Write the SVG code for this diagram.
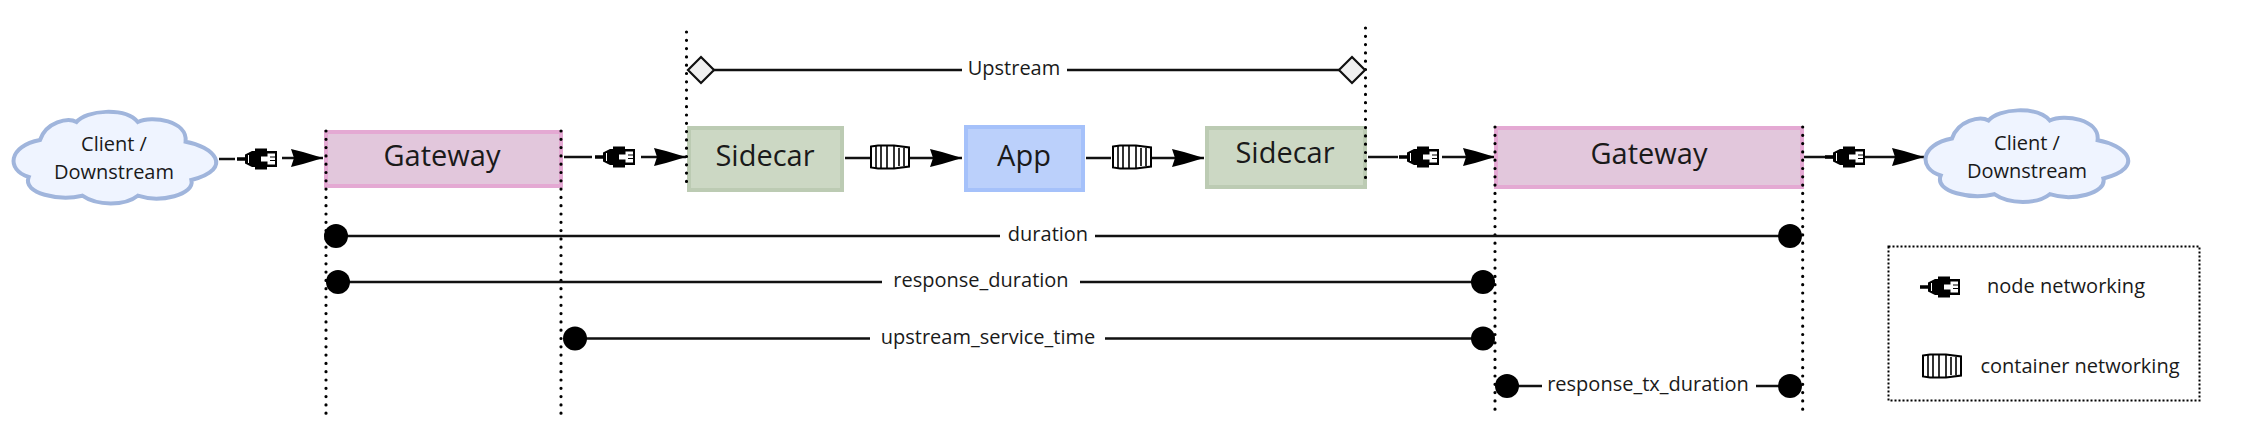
<svg xmlns="http://www.w3.org/2000/svg" width="2251" height="444" viewBox="0 0 2251 444">
<style>
text{font-family:"Open Sans","Noto Sans",sans-serif;fill:#1a1a1a;text-anchor:middle;dominant-baseline:central}
.big{font-size:29px}
.lbl{font-size:20px}
.box{stroke-width:4}
.gw{fill:#e2c7dc;stroke:#e4a9d3}
.sc{fill:#ccd8c4;stroke:#bccbb3}
.app{fill:#bbd0fb;stroke:#a5c1fa}
.cloud{fill:#eff4ff;stroke:#a0b5dc;stroke-width:4}
.dot{fill:none;stroke:#000;stroke-width:3.2;stroke-linecap:round;stroke-dasharray:0 8.3}
.ln{fill:none;stroke:#111;stroke-width:2.5}
.arr{marker-end:url(#head)}
.end{fill:#000}
.dia{fill:#f0f0f0;stroke:#111;stroke-width:2.2}
</style>
<defs>
<marker id="head" markerUnits="userSpaceOnUse" markerWidth="33" markerHeight="20" refX="32" refY="10" orient="auto" viewBox="0 0 33 20"><path d="M0,1 L12,4 L32,10 L12,16 L0,19 L3,10 Z" fill="#000"/></marker>
<path id="cloudshape" d="M40,140 C46,122 68,117 76.500,122 C86,110 125,107 137.800,122 C152,115 188,121 185.600,141.700 C212,146 236,168 191.400,180 C195,195 160,203 137.800,195.700 C125,206 97,206 82.300,195.700 C60,201 22,194 28.700,177 C6,170 8,146 40,140 Z"/>
<g id="plug">
<path d="M0,-1.800H8V1.800H0Z M8,-4.500L15,-8H18V8H15L8,4.500Z" fill="#000"/>
<path d="M11.500,-4V4" stroke="#fff" stroke-width="1"/>
<path d="M18,-10.500H30V-8H40V8H30V10.500H18Z" fill="#000"/>
<path d="M24,-2.500H30.500V-5.500H38V5.500H30.500V2.500H24Z" fill="#fff"/>
<path d="M33,-2H38 M33,1.500H38" stroke="#000" stroke-width="1.200"/>
</g>
<g id="box">
<path d="M1,-10.500 L8,-11.500 H24 L39,-9.500 V9.500 L24,11.500 H8 L1,10.500 Z" fill="#fff" stroke="#000" stroke-width="2"/>
<path d="M6,-11V11 M11,-11V11 M17,-11V11 M24,-11V11 M29,-9V9 M34,-9V9" stroke="#000" stroke-width="1.600" fill="none"/>
</g>
</defs>

<g id="connectors">
<path class="ln" d="M219,159H235"/>
<use href="#plug" x="237" y="159"/>
<path class="ln arr" d="M282,158H323"/>
<path class="ln" d="M564,157H592"/>
<use href="#plug" x="595" y="157"/>
<path class="ln arr" d="M641,157H686"/>
<path class="ln" d="M845,158H870"/>
<use href="#box" x="870" y="157"/>
<path class="ln arr" d="M910,158H962"/>
<path class="ln" d="M1086,158H1111"/>
<use href="#box" x="1112" y="157"/>
<path class="ln arr" d="M1152,158H1204"/>
<path class="ln" d="M1368,157H1398"/>
<use href="#plug" x="1399" y="157"/>
<path class="ln arr" d="M1442,157H1495"/>
<path class="ln arr" d="M1804,157H1924"/>
<use href="#plug" x="1825" y="157"/>
</g>

<g id="gateway-left"><rect class="box gw" x="326" y="132" width="235" height="54"/><text class="big" x="442" y="154">Gateway</text></g>
<g id="sidecar-left"><rect class="box sc" x="689" y="128" width="153" height="62"/><text class="big" x="765" y="154">Sidecar</text></g>
<g id="app"><rect class="box app" x="966" y="127" width="117" height="63"/><text class="big" x="1024" y="154">App</text></g>
<g id="sidecar-right"><rect class="box sc" x="1207" y="128" width="158" height="59"/><text class="big" x="1285" y="151">Sidecar</text></g>
<g id="gateway-right"><rect class="box gw" x="1496" y="128" width="306" height="59"/><text class="big" x="1649" y="152">Gateway</text></g>
<g id="client-left"><use href="#cloudshape" class="cloud"/><text class="lbl" x="114" y="143">Client /</text><text class="lbl" x="114" y="171">Downstream</text></g>
<g id="client-right"><use href="#cloudshape" class="cloud" x="1912" y="-1.500"/><text class="lbl" x="2027" y="142">Client /</text><text class="lbl" x="2027" y="170">Downstream</text></g>

<g id="guides">
<path class="dot" d="M326,131V414"/>
<path class="dot" d="M561,131V414"/>
<path class="dot" d="M686.500,32V183"/>
<path class="dot" d="M1365.500,28V181"/>
<path class="dot" d="M1495,127V411"/>
<path class="dot" d="M1802.700,127V411"/>
</g>

<g id="upstream">
<path class="ln" d="M701,70H962 M1067,70H1352"/>
<path class="dia" d="M701,57L714,70L701,83L688,70Z"/>
<path class="dia" d="M1352,57L1365,70L1352,83L1339,70Z"/>
<text class="lbl" x="1014" y="67">Upstream</text>
</g>
<g id="duration">
<path class="ln" d="M336,236H1000 M1095,236H1790"/>
<circle class="end" cx="336" cy="236" r="12"/><circle class="end" cx="1790" cy="236" r="12"/>
<text class="lbl" x="1048" y="233">duration</text>
</g>
<g id="response_duration">
<path class="ln" d="M338,282H882 M1080,282H1483"/>
<circle class="end" cx="338" cy="282" r="12"/><circle class="end" cx="1483" cy="282" r="12"/>
<text class="lbl" x="981" y="279">response_duration</text>
</g>
<g id="upstream_service_time">
<path class="ln" d="M575,338.500H870 M1105,338.500H1483"/>
<circle class="end" cx="575" cy="338.500" r="12"/><circle class="end" cx="1483" cy="338.500" r="12"/>
<text class="lbl" x="988" y="336">upstream_service_time</text>
</g>
<g id="response_tx_duration">
<path class="ln" d="M1507,386H1542 M1756,386H1790"/>
<circle class="end" cx="1507" cy="386" r="12"/><circle class="end" cx="1790" cy="386" r="12"/>
<text class="lbl" x="1648" y="383">response_tx_duration</text>
</g>

<g id="legend">
<rect x="1888.500" y="246.500" width="311" height="154" fill="none" stroke="#000" stroke-width="2" stroke-dasharray="2 2"/>
<use href="#plug" x="1920" y="287"/>
<use href="#box" x="1922" y="366"/>
<text class="lbl" x="2066" y="285">node networking</text>
<text class="lbl" x="2080" y="365">container networking</text>
</g>
</svg>
